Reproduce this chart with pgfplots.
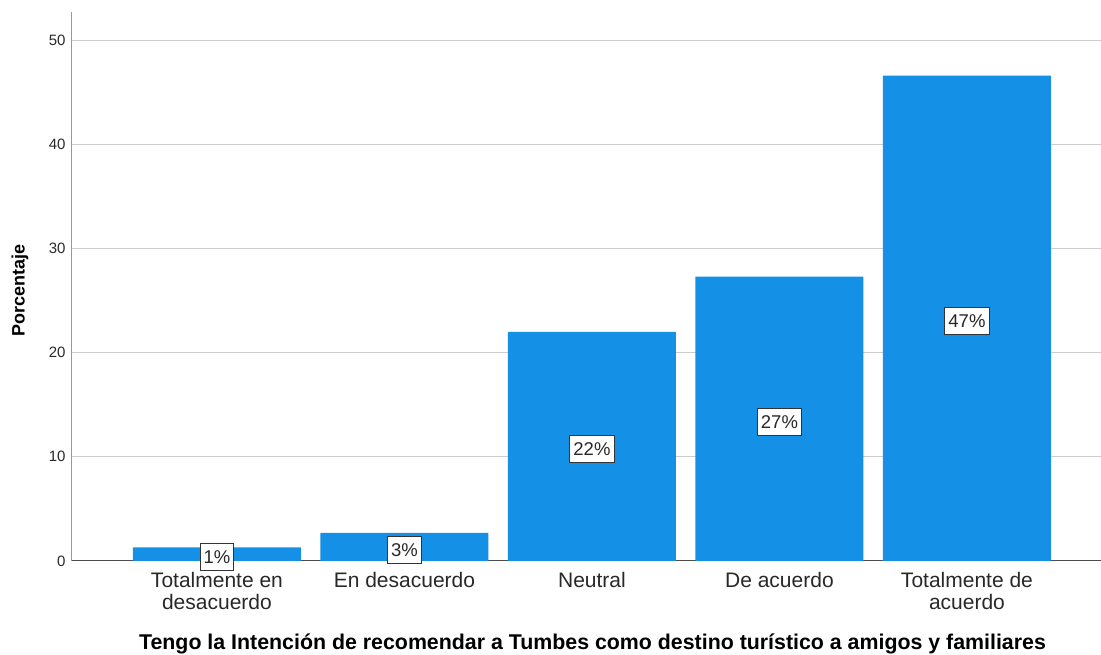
\documentclass[border=0pt]{standalone}
\usepackage{pgfplots}
\pgfplotsset{compat=1.18}
\usepackage{fontspec}
\setmainfont{Liberation Sans}
\definecolor{barblue}{RGB}{20,144,230}
\definecolor{gridgray}{RGB}{205,205,205}
\definecolor{txt}{RGB}{40,40,40}
\begin{document}
\begin{tikzpicture}
\useasboundingbox (0pt,0pt) rectangle (1101pt,655pt);
\begin{axis}[
  at={(72pt,94pt)}, anchor=south west,
  scale only axis, width=1029pt, height=549pt,
  xmin=-0.773, xmax=4.715, ymin=0, ymax=52.7,
  axis x line=bottom, axis y line=left,
  axis line style={-},
  x axis line style={draw=black!70, line width=1pt},
  y axis line style={draw=black!40, line width=1pt},
  ytick={0,10,20,30,40,50},
  ymajorgrids, grid style={gridgray, line width=1pt},
  major tick length=0pt,
  xtick={0,1,2,3,4},
  xticklabels={{Totalmente en\\desacuerdo}, {En desacuerdo}, {Neutral}, {De acuerdo}, {Totalmente de\\acuerdo}},
  xticklabel style={align=center, font=\fontsize{21}{22}\selectfont, text=txt, yshift=-8pt},
  yticklabel style={font=\fontsize{15}{16}\selectfont, text=txt, xshift=-3pt},
  /pgf/number format/assume math mode=true,
  xlabel={Tengo la Intención de recomendar a Tumbes como destino turístico a amigos y familiares},
  xlabel style={font=\bfseries\fontsize{21.35}{22}\selectfont, text=black, at={(axis description cs:0.5,0)}, anchor=base, yshift=-89pt, xshift=6pt},
  ylabel={Porcentaje},
  ylabel style={font=\bfseries\fontsize{18}{22}\selectfont, text=black, at={(axis description cs:0,0.5)}, anchor=center, xshift=-4pt, yshift=52pt},
  clip=false,
]
\addplot[ybar, bar width=0.896, bar shift=0pt, fill=barblue, draw=none,
  nodes near coords={\pgfmathprintnumber[fixed,precision=0]{\pgfplotspointmeta}\%},
  visualization depends on={y \as \rawy},
  every node near coord/.append style={anchor=center, fill=white, draw=black!80, line width=0.9pt, inner xsep=3.5pt, inner ysep=7pt, font=\fontsize{18.5}{18.5}\selectfont, text=txt, shift={(axis direction cs:0,-0.5*\rawy)}, yshift=-3pt},
] coordinates {(0,1.3) (1,2.7) (2,22.0) (3,27.3) (4,46.6)};
\end{axis}
\end{tikzpicture}
\end{document}
